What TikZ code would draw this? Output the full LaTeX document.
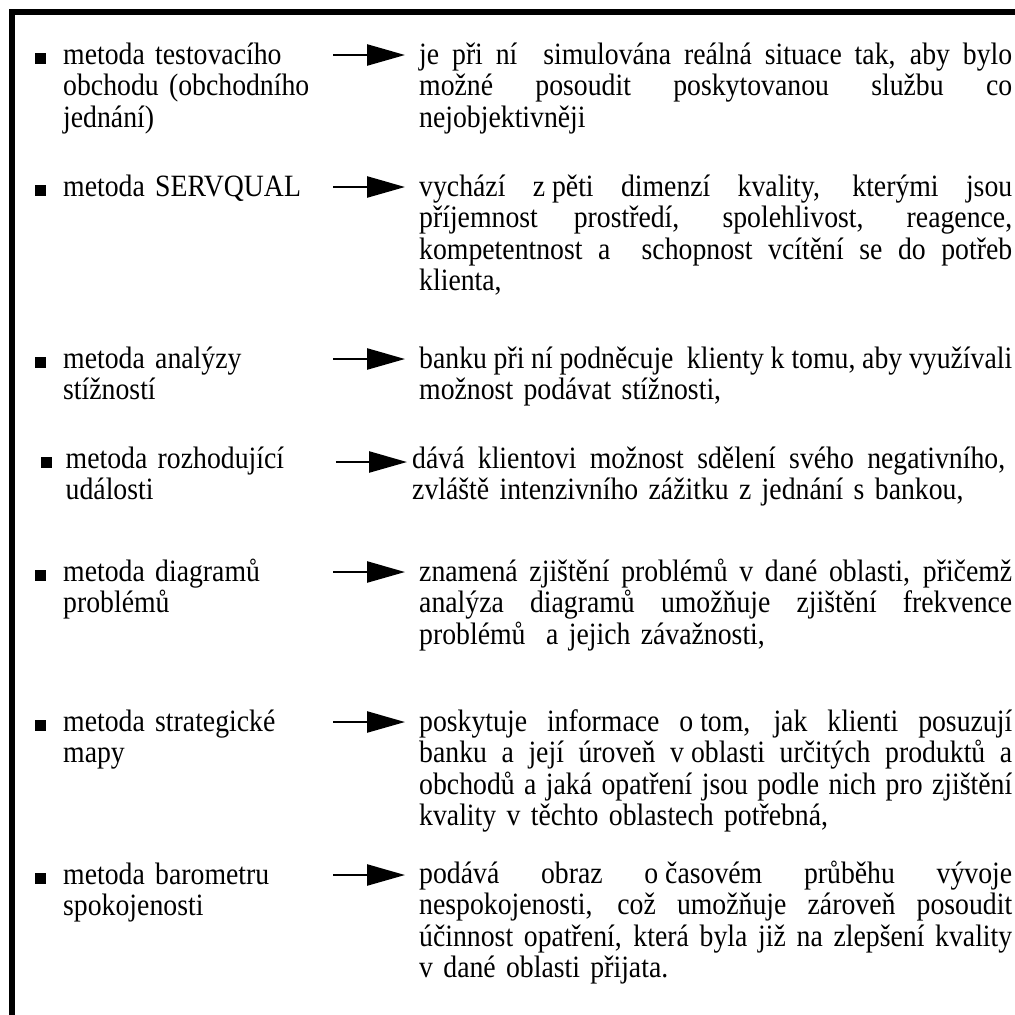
\documentclass[tikz,border=0pt]{standalone}
\usepackage{fontspec}
\setmainfont{Liberation Serif}[FakeStretch=0.895]
\usetikzlibrary{arrows.meta}

% width of the description column and helpers for its lines
\newlength\rcol
\setlength\rcol{593pt}
% a justified line: every interword space stretches by the same amount
\newcommand\jl[1]{\leavevmode\hbox to \rcol{\spaceskip=\fontdimen2\font plus 1em minus 0.06em
  \xspaceskip=\spaceskip #1}}
% fixed (non-stretching) space after one-letter prepositions
\newcommand\nbs{\kern\fontdimen2\font}

\tikzset{
  frame/.style={line width=5.6pt, line join=miter},
  ltext/.style={anchor=base west, inner sep=0pt, text width=270pt, align=left},
  rtext/.style={anchor=base west, inner sep=0pt, text width=\rcol, align=left},
  bul/.style={anchor=south west, fill=black, inner sep=0pt, minimum size=11pt},
  arr/.style={line width=2.4pt, -{Triangle[length=38pt,width=21pt]}, shorten >=14pt},
}

\begin{document}
\begin{tikzpicture}[x=1pt, y=-1pt, font=\fontsize{31}{31.5}\selectfont]
\useasboundingbox (0,0) rectangle (1015,1015);

% open frame: top and left edges
\draw[frame] (12.2,1015) -- (12.2,12.2) -- (1015,12.2);

% 1
\node[bul] (b1) at (35,64) {};
\node[ltext] (l1) at (63,64) {metoda testovacího\\obchodu (obchodního\\jednání)};
\node[rtext] (r1) at (419,64) {\jl{je při ní\ \ simulována reálná situace tak, aby bylo}\\
  \jl{možné posoudit poskytovanou službu co}\\
  nejobjektivněji};
\draw[arr] ([yshift=9pt]l1.base east) -- ([yshift=9pt]l1.base east -| r1.west);

% 2
\node[bul] (b2) at (35,196) {};
\node[ltext] (l2) at (63,196) {metoda SERVQUAL};
\node[rtext] (r2) at (419,196) {\jl{vychází z\nbs pěti dimenzí kvality, kterými jsou}\\
  \jl{příjemnost prostředí, spolehlivost, reagence,}\\
  \jl{kompetentnost a\ \ schopnost vcítění se do potřeb}\\
  klienta,};
\draw[arr] ([yshift=9pt]l2.base east) -- ([yshift=9pt]l2.base east -| r2.west);

% 3
\node[bul] (b3) at (35,368) {};
\node[ltext] (l3) at (63,368) {metoda analýzy\\stížností};
\node[rtext] (r3) at (419,368) {\jl{banku při ní podněcuje\ \ klienty k\nbs tomu, aby využívali}\\
  možnost podávat stížnosti,};
\draw[arr] ([yshift=9pt]l3.base east) -- ([yshift=9pt]l3.base east -| r3.west);

% 4
\node[bul] (b4) at (40.5,468) {};
\node[ltext] (l4) at (65.5,468) {metoda rozhodující\\události};
\node[rtext] (r4) at (412,468) {\jl{dává klientovi možnost sdělení svého negativního,}\\
  zvláště intenzivního zážitku z jednání s bankou,};
\draw[arr, shorten >=5pt] ([yshift=6pt]l4.base east) -- ([yshift=6pt]l4.base east -| r4.west);

% 5
\node[bul] (b5) at (35,581) {};
\node[ltext] (l5) at (63,581) {metoda diagramů\\problémů};
\node[rtext] (r5) at (419,581) {\jl{znamená zjištění problémů v dané oblasti, přičemž}\\
  \jl{analýza diagramů umožňuje zjištění frekvence}\\
  problémů\ \ a jejich závažnosti,};
\draw[arr] ([yshift=9pt]l5.base east) -- ([yshift=9pt]l5.base east -| r5.west);

% 6
\node[bul] (b6) at (35,731) {};
\node[ltext] (l6) at (63,731) {metoda strategické\\mapy};
\node[rtext] (r6) at (419,731) {\jl{poskytuje informace o\nbs tom, jak klienti posuzují}\\
  \jl{banku a její úroveň v\nbs oblasti určitých produktů a}\\
  \jl{obchodů a jaká opatření jsou podle nich pro zjištění}\\
  kvality v těchto oblastech potřebná,};
\draw[arr] ([yshift=9pt]l6.base east) -- ([yshift=9pt]l6.base east -| r6.west);

% 7
\node[bul] (b7) at (35,884) {};
\node[ltext] (l7) at (63,884) {metoda barometru\\spokojenosti};
\node[rtext] (r7) at (419,883) {\jl{podává obraz o\nbs časovém průběhu vývoje}\\
  \jl{nespokojenosti, což umožňuje zároveň posoudit}\\
  \jl{účinnost opatření, která byla již na zlepšení kvality}\\
  v dané oblasti přijata.};
\draw[arr] ([yshift=9pt]l7.base east) -- ([yshift=9pt]l7.base east -| r7.west);
\end{tikzpicture}
\end{document}
